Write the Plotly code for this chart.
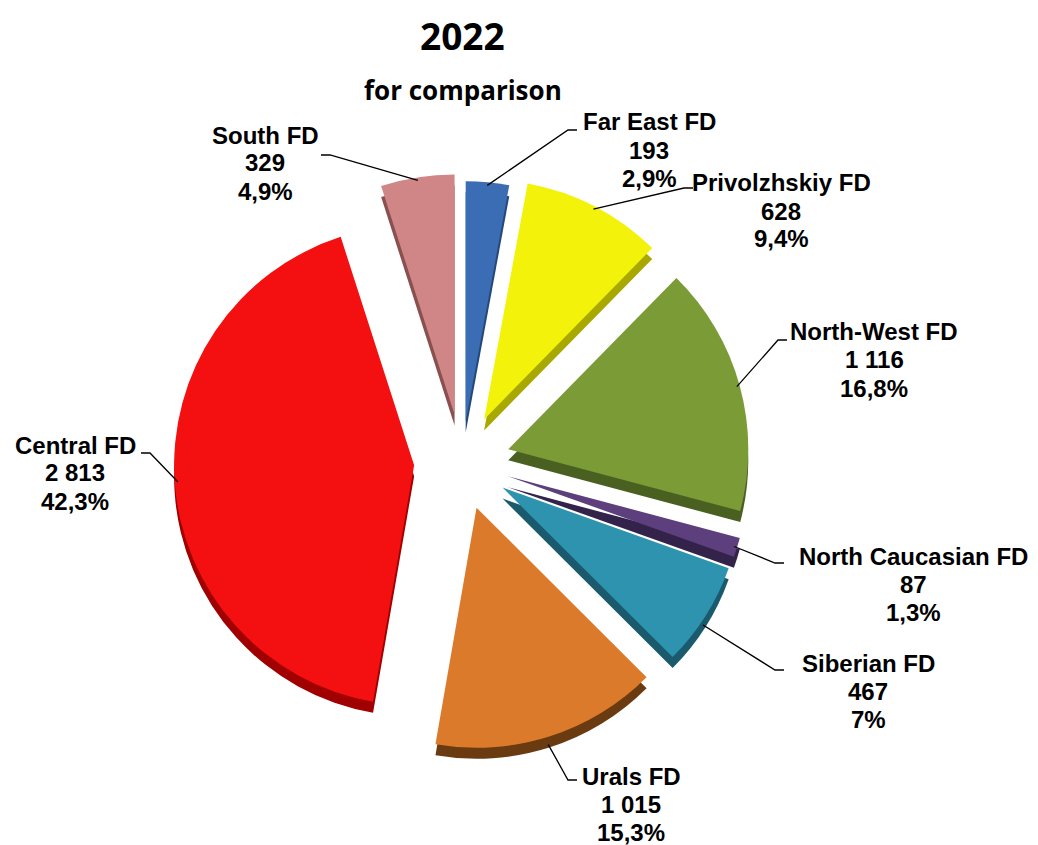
import math
import plotly.graph_objects as go

# ---- data ----
regions = ["Far East FD", "Privolzhskiy FD", "North-West FD", "North Caucasian FD",
           "Siberian FD", "Urals FD", "Central FD", "South FD"]
values = [193, 628, 1116, 87, 467, 1015, 2813, 329]
value_labels = ["193", "628", "1 116", "87", "467", "1 015", "2 813", "329"]
percent_labels = ["2,9%", "9,4%", "16,8%", "1,3%", "7%", "15,3%", "42,3%", "4,9%"]

# ---- style / layout ----
colors = ["#3A6DB3", "#F2F20A", "#7A9B36", "#5C3F7C", "#2D93AE", "#DB7A2A", "#F41010", "#D08686"]
shadow_colors = ["#24487A", "#A8A800", "#4A6020", "#33224A", "#1A5A6C", "#6A3A10", "#A00000", "#8A5050"]
pulls = [0.17, 0.2, 0.2, 0.2, 0.2, 0.2, 0.2, 0.2]

W, H = 1038, 845
cx_px, cy_px = 462, 462      # pie centre (pixels from top-left)
R_dom = 288                  # half size of pie domain in px
depth = 11
line_gap = 28

def dom(cx, cy):
    return dict(x=[(cx - R_dom) / W, (cx + R_dom) / W],
                y=[(H - cy - R_dom) / H, (H - cy + R_dom) / H])

# label text first-line centres and leader elbow points (pixels)
label_pos = [(649, 122), (781, 183), (874, 332), (913, 556), (868, 663), (631, 776), (75, 445), (265, 135)]
elbows = [(568, 130), (684, 188), (778, 340), (775, 563), (775, 670), (568, 780), (150, 453), (330, 155)]

fig = go.Figure()
fig.add_trace(go.Pie(labels=regions, values=values, sort=False, direction="clockwise",
                     rotation=0, pull=pulls, textinfo="none", hoverinfo="skip",
                     marker=dict(colors=shadow_colors, line=dict(width=0)),
                     domain=dom(cx_px, cy_px + depth), showlegend=False))
fig.add_trace(go.Pie(labels=regions, values=values, sort=False, direction="clockwise",
                     rotation=0, pull=pulls, textinfo="none",
                     marker=dict(colors=colors, line=dict(width=0)),
                     domain=dom(cx_px, cy_px), showlegend=False))

total = sum(values)
maxpull = max(pulls)
r = R_dom / (1 + maxpull)
cum = 0
shapes = []
annotations = []
for i, v in enumerate(values):
    mid = (cum + v / 2) / total * 2 * math.pi
    cum += v
    rr = r * (1 + pulls[i]) - 3
    ax = cx_px + rr * math.sin(mid)
    ay = cy_px - rr * math.cos(mid)
    if math.cos(mid) < -0.5:
        ay += depth
    ex, ey = elbows[i]
    lx, ly = label_pos[i]
    stub = 9 if ex < lx else -9
    path = f"M {ax/W} {1-ay/H} L {ex/W} {1-ey/H} L {(ex+stub)/W} {1-ey/H}"
    shapes.append(dict(type="path", xref="paper", yref="paper", path=path,
                       line=dict(color="black", width=1.3)))
    for k, t in enumerate([regions[i], value_labels[i], percent_labels[i]]):
        annotations.append(dict(x=lx / W, y=1 - (ly + k * line_gap) / H, xref="paper", yref="paper",
                                text=f"<b>{t}</b>", showarrow=False, xanchor="center", yanchor="middle",
                                font=dict(family="Liberation Sans, Arial", size=24, color="black")))

annotations.append(dict(x=462 / W, y=1 - 36 / H, xref="paper", yref="paper", text="<b>2022</b>",
                        showarrow=False, xanchor="center", yanchor="middle",
                        font=dict(family="Open Sans", size=37, color="black")))
annotations.append(dict(x=463 / W, y=1 - 90 / H, xref="paper", yref="paper", text="<b>for comparison</b>",
                        showarrow=False, xanchor="center", yanchor="middle",
                        font=dict(family="Open Sans", size=26, color="black")))

fig.update_layout(width=W, height=H, margin=dict(l=0, r=0, t=0, b=0),
                  paper_bgcolor="white", plot_bgcolor="white",
                  shapes=shapes, annotations=annotations, showlegend=False)

fig.write_html("out.html")
